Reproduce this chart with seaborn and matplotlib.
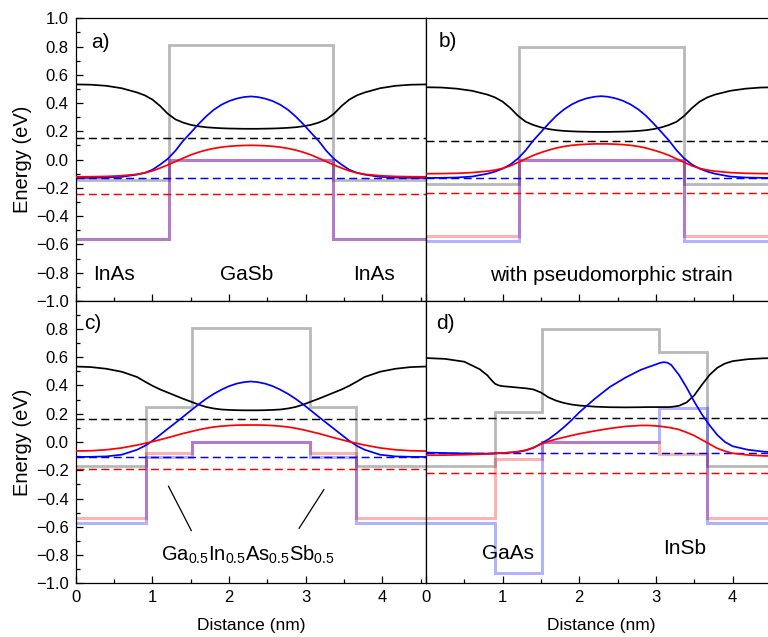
import matplotlib
matplotlib.use("Agg")
import matplotlib.pyplot as plt
from matplotlib.ticker import MultipleLocator, FixedLocator, FuncFormatter
import seaborn as sns

# ---------------------------------------------------------------- data
# sampling positions (nm) for the symmetric structures (a, b, c)
x_sym = [0, 0.2, 0.4, 0.6, 0.8, 0.9, 1.0, 1.1, 1.2, 1.3, 1.4, 1.5, 1.6, 1.7,
         1.8, 1.9, 2.0, 2.1, 2.2, 2.285, 2.37, 2.47, 2.57, 2.67, 2.77, 2.87,
         2.97, 3.07, 3.17, 3.27, 3.37, 3.47, 3.57, 3.67, 3.77, 3.97, 4.17,
         4.37, 4.57]

# a) InAs / GaSb / InAs
a_black = [0.532, 0.530, 0.522, 0.505, 0.475, 0.455, 0.425, 0.380, 0.325, 0.285,
           0.262, 0.246, 0.236, 0.229, 0.225, 0.222, 0.220, 0.219, 0.218, 0.218,
           0.218, 0.219, 0.220, 0.222, 0.225, 0.229, 0.236, 0.246, 0.262, 0.285,
           0.325, 0.380, 0.425, 0.455, 0.475, 0.505, 0.522, 0.530, 0.532]
a_blue = [-0.130, -0.129, -0.127, -0.122, -0.106, -0.094, -0.072, -0.036, 0.005, 0.062,
          0.132, 0.190, 0.250, 0.305, 0.352, 0.388, 0.414, 0.432, 0.443, 0.447,
          0.443, 0.432, 0.414, 0.388, 0.352, 0.305, 0.250, 0.190, 0.132, 0.062,
          0.005, -0.036, -0.072, -0.094, -0.106, -0.122, -0.127, -0.129, -0.130]
a_red = [-0.122, -0.121, -0.119, -0.114, -0.104, -0.094, -0.080, -0.060, -0.038, -0.014,
         0.010, 0.033, 0.052, 0.067, 0.079, 0.088, 0.094, 0.098, 0.100, 0.101,
         0.100, 0.098, 0.094, 0.088, 0.079, 0.067, 0.052, 0.033, 0.010, -0.014,
         -0.038, -0.060, -0.080, -0.094, -0.104, -0.114, -0.119, -0.121, -0.122]
a_edges = [0, 1.22, 3.36, 4.8]
a_cb = [-0.145, 0.81, -0.145]
a_vb_red = [-0.56, 0.0, -0.56]
a_vb_blue = [-0.56, 0.0, -0.56]
a_levels = [0.152, -0.13, -0.245]

# b) with pseudomorphic strain
b_black = [0.512, 0.510, 0.502, 0.487, 0.460, 0.440, 0.410, 0.365, 0.310, 0.268,
           0.245, 0.228, 0.216, 0.208, 0.203, 0.200, 0.198, 0.197, 0.196, 0.196,
           0.196, 0.197, 0.198, 0.200, 0.203, 0.208, 0.216, 0.228, 0.245, 0.268,
           0.310, 0.365, 0.410, 0.440, 0.460, 0.487, 0.502, 0.510, 0.512]
b_blue = [-0.130, -0.129, -0.127, -0.120, -0.100, -0.085, -0.064, -0.035, 0.008, 0.065,
          0.135, 0.195, 0.255, 0.310, 0.355, 0.390, 0.416, 0.434, 0.445, 0.449,
          0.445, 0.434, 0.416, 0.390, 0.355, 0.310, 0.255, 0.195, 0.135, 0.065,
          0.008, -0.035, -0.064, -0.085, -0.100, -0.120, -0.127, -0.129, -0.130]
b_red = [-0.100, -0.099, -0.097, -0.092, -0.082, -0.074, -0.062, -0.044, -0.020, 0.005,
         0.030, 0.050, 0.067, 0.082, 0.093, 0.101, 0.106, 0.109, 0.111, 0.111,
         0.111, 0.109, 0.106, 0.101, 0.093, 0.082, 0.067, 0.050, 0.030, 0.005,
         -0.020, -0.044, -0.062, -0.074, -0.082, -0.092, -0.097, -0.099, -0.100]
b_edges = [0, 1.21, 3.36, 4.8]
b_cb = [-0.17, 0.80, -0.17]
b_vb_red = [-0.54, 0.0, -0.54]
b_vb_blue = [-0.578, 0.0, -0.578]
b_levels = [0.13, -0.133, -0.235]

# c) with Ga0.5In0.5As0.5Sb0.5 interlayers
c_black = [0.534, 0.530, 0.518, 0.497, 0.460, 0.428, 0.398, 0.372, 0.350, 0.328,
           0.306, 0.286, 0.265, 0.248, 0.237, 0.230, 0.227, 0.225, 0.224, 0.224,
           0.224, 0.225, 0.227, 0.230, 0.237, 0.248, 0.265, 0.286, 0.306, 0.328,
           0.350, 0.372, 0.398, 0.428, 0.460, 0.497, 0.518, 0.530, 0.534]
c_blue = [-0.106, -0.105, -0.102, -0.090, -0.055, -0.028, 0.008, 0.050, 0.093, 0.135,
          0.178, 0.222, 0.265, 0.305, 0.340, 0.370, 0.395, 0.413, 0.424, 0.428,
          0.424, 0.413, 0.395, 0.370, 0.340, 0.305, 0.265, 0.222, 0.178, 0.135,
          0.093, 0.050, 0.008, -0.028, -0.055, -0.090, -0.102, -0.105, -0.106]
c_red = [-0.064, -0.062, -0.055, -0.042, -0.022, -0.010, 0.002, 0.016, 0.030, 0.045,
         0.060, 0.073, 0.086, 0.097, 0.106, 0.112, 0.116, 0.119, 0.120, 0.120,
         0.120, 0.119, 0.116, 0.112, 0.106, 0.097, 0.086, 0.073, 0.060, 0.045,
         0.030, 0.016, 0.002, -0.010, -0.022, -0.042, -0.055, -0.062, -0.064]
c_edges = [0, 0.913, 1.52, 3.05, 3.66, 4.8]
c_cb = [-0.168, 0.25, 0.81, 0.25, -0.168]
c_vb_red = [-0.54, -0.08, 0.0, -0.08, -0.54]
c_vb_blue = [-0.575, -0.108, 0.0, -0.108, -0.575]
c_levels = [0.163, -0.108, -0.193]

# d) with GaAs and InSb interlayers
x_d = [0, 0.25, 0.5, 0.7, 0.8, 0.85, 0.9, 0.95, 1.0, 1.1, 1.2, 1.3, 1.4, 1.5,
       1.6, 1.7, 1.8, 1.9, 2.0, 2.2, 2.4, 2.6, 2.8, 2.9, 3.0, 3.05, 3.1, 3.15,
       3.2, 3.3, 3.4, 3.5, 3.6, 3.7, 3.8, 3.9, 4.0, 4.2, 4.4, 4.6]
d_black = [0.594, 0.588, 0.568, 0.515, 0.472, 0.440, 0.412, 0.400, 0.395, 0.390,
           0.385, 0.380, 0.372, 0.350, 0.315, 0.292, 0.276, 0.265, 0.258, 0.250,
           0.246, 0.245, 0.246, 0.247, 0.247, 0.247, 0.247, 0.247, 0.248, 0.256,
           0.280, 0.330, 0.405, 0.475, 0.525, 0.555, 0.572, 0.586, 0.592, 0.594]
d_blue = [-0.075, -0.078, -0.081, -0.082, -0.082, -0.081, -0.080, -0.079, -0.078, -0.075,
          -0.070, -0.060, -0.042, -0.012, 0.020, 0.060, 0.105, 0.155, 0.210, 0.305,
          0.390, 0.455, 0.510, 0.530, 0.549, 0.559, 0.565, 0.561, 0.545, 0.475,
          0.385, 0.285, 0.195, 0.118, 0.050, 0.000, -0.030, -0.055, -0.068, -0.074]
d_red = [-0.094, -0.093, -0.090, -0.087, -0.085, -0.084, -0.082, -0.080, -0.078, -0.074,
         -0.068, -0.058, -0.040, -0.015, 0.005, 0.020, 0.033, 0.046, 0.058, 0.078,
         0.096, 0.110, 0.117, 0.117, 0.114, 0.111, 0.108, 0.104, 0.100, 0.088,
         0.068, 0.045, 0.015, -0.015, -0.045, -0.065, -0.080, -0.092, -0.098, -0.100]
d_edges = [0, 0.9, 1.51, 3.04, 3.66, 4.8]
d_cb = [-0.168, 0.212, 0.80, 0.635, -0.168]
d_vb_red = [-0.54, -0.118, 0.0, -0.088, -0.54]
d_vb_blue = [-0.575, -0.93, 0.0, 0.237, -0.575]
d_levels = [0.172, -0.075, -0.218]

y_ticks_top = [-1.0, -0.8, -0.6, -0.4, -0.2, 0.0, 0.2, 0.4, 0.6, 0.8, 1.0]
y_ticks_bottom = [-1.0, -0.8, -0.6, -0.4, -0.2, 0.0, 0.2, 0.4, 0.6, 0.8]

# ---------------------------------------------------------------- style
sns.set_theme(style="ticks")
plt.rcParams["font.family"] = ["Liberation Sans", "DejaVu Sans"]
plt.rcParams["mathtext.default"] = "regular"
plt.rcParams["axes.linewidth"] = 0.9
plt.rcParams["axes.edgecolor"] = "black"
plt.rcParams["text.color"] = "black"
plt.rcParams["axes.labelcolor"] = "black"

fig = plt.figure(figsize=(7.68, 6.37), dpi=100)
W, H = 0.4561, 0.4437
L1, L2 = 0.0986, 0.5547
B1, B2 = 0.5276, 0.0843
ax_a = fig.add_axes([L1, B1, W, H])
ax_b = fig.add_axes([L2, B1, W, H])
ax_c = fig.add_axes([L1, B2, W, H])
ax_d = fig.add_axes([L2, B2, W, H])

panels = [
    (ax_a, x_sym, a_black, a_blue, a_red, a_edges, a_cb, a_vb_red, a_vb_blue, a_levels, "a)", 0.20, 0.79),
    (ax_b, x_sym, b_black, b_blue, b_red, b_edges, b_cb, b_vb_red, b_vb_blue, b_levels, "b)", 0.17, 0.80),
    (ax_c, x_sym, c_black, c_blue, c_red, c_edges, c_cb, c_vb_red, c_vb_blue, c_levels, "c)", 0.11, 0.80),
    (ax_d, x_d, d_black, d_blue, d_red, d_edges, d_cb, d_vb_red, d_vb_blue, d_levels, "d)", 0.13, 0.80),
]

minus_fmt = FuncFormatter(lambda v, pos: f"{v:.1f}".replace("-", "\u2212"))
dash = (0, (5.5, 3.0))
for ax, x, yk, yb, yr, edges, cb, vbr, vbb, lev, tag, tx, ty in panels:
    # band edges of the layer stack
    ax.stairs(cb, edges, baseline=None, color="black", alpha=0.28, lw=2.0, zorder=1)
    ax.stairs(vbr, edges, baseline=None, color="red", alpha=0.3, lw=2.2, zorder=1)
    ax.stairs(vbb, edges, baseline=None, color="blue", alpha=0.3, lw=2.2, zorder=1)
    # quasi-Fermi / reference levels
    for val, col in zip(lev, ["black", "blue", "red"]):
        ax.axhline(val, color=col, lw=1.05, ls=dash, zorder=2)
    # confined states
    sns.lineplot(x=x, y=yk, ax=ax, color="black", lw=1.25, estimator=None, sort=False, zorder=3)
    sns.lineplot(x=x, y=yb, ax=ax, color="blue", lw=1.25, estimator=None, sort=False, zorder=3)
    sns.lineplot(x=x, y=yr, ax=ax, color="red", lw=1.25, estimator=None, sort=False, zorder=3)

    ax.set_xlim(0, 4.57)
    ax.set_ylim(-1.0, 1.0)
    ax.xaxis.set_major_locator(MultipleLocator(1))
    ax.xaxis.set_minor_locator(MultipleLocator(0.5))
    ax.yaxis.set_minor_locator(MultipleLocator(0.1))
    ax.yaxis.set_major_formatter(minus_fmt)
    ax.tick_params(which="both", direction="in", width=0.9, colors="black",
                   labelsize=12, top=False, right=False)
    ax.tick_params(which="major", length=5, pad=5)
    ax.tick_params(which="minor", length=3)
    ax.set_xlabel("")
    ax.set_ylabel("")
    ax.text(tx, ty, tag, fontsize=15, ha="left", va="baseline")
    for s in ax.spines.values():
        s.set_visible(True)
        s.set_color("black")

ax_a.yaxis.set_major_locator(FixedLocator(y_ticks_top))
ax_b.yaxis.set_major_locator(FixedLocator(y_ticks_top))
ax_c.yaxis.set_major_locator(FixedLocator(y_ticks_bottom))
ax_d.yaxis.set_major_locator(FixedLocator(y_ticks_bottom))

for ax in (ax_a, ax_b):
    ax.tick_params(axis="x", labelbottom=False)
for ax in (ax_b, ax_d):
    ax.tick_params(axis="y", which="both", left=False, labelleft=False)
for ax in (ax_a, ax_c):
    ax.set_ylabel("Energy (eV)", fontsize=14.5, labelpad=3)
for ax in (ax_c, ax_d):
    ax.set_xlabel("Distance (nm)", fontsize=12.5, labelpad=9)

# layer names
ax_a.text(0.50, -0.85, "InAs", fontsize=15, ha="center", va="baseline")
ax_a.text(2.23, -0.855, "GaSb", fontsize=15, ha="center", va="baseline")
ax_a.text(3.89, -0.85, "InAs", fontsize=15, ha="center", va="baseline")
ax_b.text(2.42, -0.86, "with pseudomorphic strain", fontsize=15, ha="center", va="baseline")
ax_c.text(2.25, -0.84, r"Ga$_{0.5}$In$_{0.5}$As$_{0.5}$Sb$_{0.5}$", fontsize=14.5,
          ha="center", va="baseline")
ax_c.plot([1.209, 1.509], [-0.312, -0.628], color="black", lw=0.9)
ax_c.plot([3.239, 2.913], [-0.336, -0.612], color="black", lw=0.9)
ax_d.text(1.075, -0.83, "GaAs", fontsize=15, ha="center", va="baseline")
ax_d.text(3.38, -0.79, "InSb", fontsize=15, ha="center", va="baseline")

fig.savefig("out.png", dpi=100)
